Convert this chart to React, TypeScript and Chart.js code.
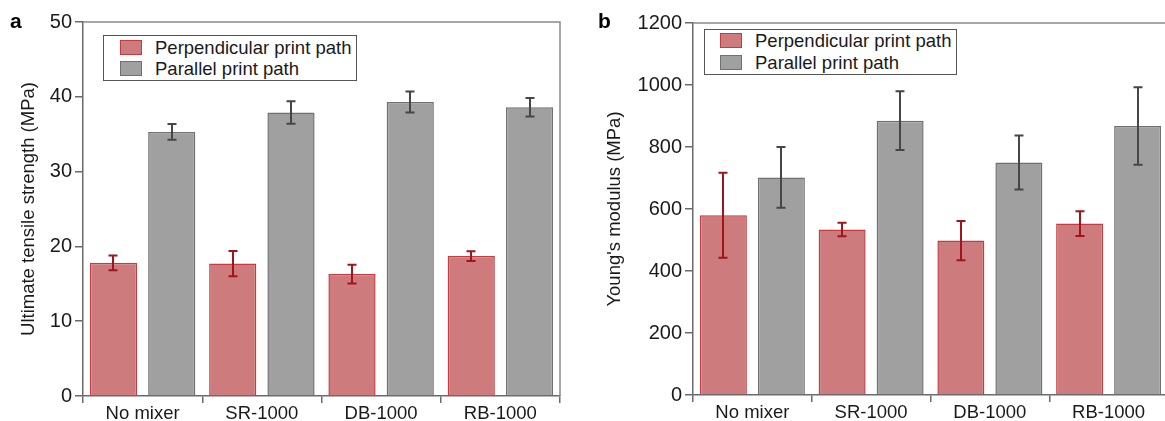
import React, { useEffect, useRef } from 'react';
import { Chart, registerables } from 'chart.js';

Chart.register(...registerables);

// ---------- data ----------
const categories = ['No mixer', 'SR-1000', 'DB-1000', 'RB-1000'];
const seriesLabels = ['Perpendicular print path', 'Parallel print path'];

const utsPerp = [17.8, 17.7, 16.3, 18.7];
const utsPerpErr = [1.0, 1.7, 1.25, 0.65];
const utsPar = [35.3, 37.9, 39.3, 38.6];
const utsParErr = [1.05, 1.5, 1.4, 1.25];

const modPerp = [580, 534, 498, 553];
const modPerpErr = [137, 22, 63, 40];
const modPar = [702, 885, 750, 868];
const modParErr = [98, 95, 87, 125];

const utsTitle = 'Ultimate tensile strength (MPa)';
const modTitle = "Young's modulus (MPa)";

// ---------- styles ----------
const FONT = "'Liberation Sans', Arial, Helvetica, sans-serif";
const TEXT = '#1a1a1a';
const AXIS = '#6a6a6a';
const RED_FILL = 'rgb(205,123,124)';
const RED_BORDER = 'rgb(196,60,66)';
const RED_ERR = 'rgb(160,20,28)';
const GRAY_FILL = 'rgb(160,160,160)';
const GRAY_BORDER = 'rgb(112,112,112)';
const GRAY_ERR = 'rgb(70,70,70)';

const errorBarPlugin = {
  id: 'errorBars',
  afterDatasetsDraw(chart: any) {
    const { ctx } = chart;
    const y = chart.scales.y;
    chart.data.datasets.forEach((ds: any, i: number) => {
      const errs = ds.errors;
      if (!errs) return;
      const meta = chart.getDatasetMeta(i);
      ctx.save();
      ctx.strokeStyle = ds.errorColor;
      ctx.lineWidth = 2;
      meta.data.forEach((bar: any, j: number) => {
        const v = ds.data[j];
        const e = errs[j];
        const x = Math.round(bar.x);
        const yt = y.getPixelForValue(v + e);
        const yb = y.getPixelForValue(v - e);
        ctx.beginPath();
        ctx.moveTo(x, yt);
        ctx.lineTo(x, yb);
        ctx.moveTo(x - 4.5, yt);
        ctx.lineTo(x + 4.5, yt);
        ctx.moveTo(x - 4.5, yb);
        ctx.lineTo(x + 4.5, yb);
        ctx.stroke();
      });
      ctx.restore();
    });
  },
};

const framePlugin = {
  id: 'frame',
  afterDraw(chart: any) {
    const { ctx, chartArea } = chart;
    ctx.save();
    ctx.strokeStyle = '#8a8a8a';
    ctx.lineWidth = 1.5;
    ctx.beginPath();
    ctx.moveTo(chartArea.left, chartArea.top);
    ctx.lineTo(chartArea.right, chartArea.top);
    ctx.lineTo(chartArea.right, chartArea.bottom);
    ctx.stroke();
    ctx.restore();
  },
};

type PanelProps = {
  left: number;
  width: number;
  height: number;
  yWidth: number;
  xHeight: number;
  padTop: number;
  padRight: number;
  titlePad: number;
  min: number;
  max: number;
  step: number;
  title: string;
  perp: number[];
  perpErr: number[];
  par: number[];
  parErr: number[];
};

function BarPanel(p: PanelProps) {
  const ref = useRef<HTMLCanvasElement | null>(null);
  useEffect(() => {
    if (!ref.current) return;
    const chart = new Chart(ref.current, {
      type: 'bar',
      data: {
        labels: categories,
        datasets: [
          {
            label: seriesLabels[0],
            data: p.perp,
            errors: p.perpErr,
            errorColor: RED_ERR,
            backgroundColor: RED_FILL,
            borderColor: RED_BORDER,
            borderWidth: 1.5,
            categoryPercentage: 0.977,
            barPercentage: 0.81,
          } as any,
          {
            label: seriesLabels[1],
            data: p.par,
            errors: p.parErr,
            errorColor: GRAY_ERR,
            backgroundColor: GRAY_FILL,
            borderColor: GRAY_BORDER,
            borderWidth: 1.5,
            categoryPercentage: 0.977,
            barPercentage: 0.81,
          } as any,
        ],
      },
      options: {
        responsive: false,
        animation: false,
        layout: { padding: { top: p.padTop, right: p.padRight, bottom: 0, left: 0 } },
        plugins: { legend: { display: false }, tooltip: { enabled: false } },
        scales: {
          x: {
            grid: {
              display: true,
              drawOnChartArea: false,
              offset: true,
              tickLength: 7,
              color: AXIS,
              lineWidth: 1.5,
            },
            border: { display: true, color: AXIS, width: 1.5 },
            ticks: { font: { family: FONT, size: 18.5 }, color: TEXT, padding: 0, maxRotation: 0 },
            afterFit: (s: any) => {
              s.height = p.xHeight;
            },
          },
          y: {
            min: p.min,
            max: p.max,
            ticks: {
              stepSize: p.step,
              font: { family: FONT, size: 20 },
              color: TEXT,
              padding: 3,
              callback: (v: any) => String(v),
            },
            grid: { drawOnChartArea: false, tickLength: 8, color: AXIS, lineWidth: 1.5 },
            border: { display: true, color: AXIS, width: 1.5 },
            title: {
              display: true,
              text: p.title,
              font: { family: FONT, size: 18.5 },
              color: TEXT,
              padding: { top: p.titlePad, bottom: 0 },
            },
            afterFit: (s: any) => {
              s.width = p.yWidth;
            },
          },
        },
      },
      plugins: [errorBarPlugin, framePlugin],
    });
    return () => chart.destroy();
  }, []);
  return (
    <canvas
      ref={ref}
      width={p.width}
      height={p.height}
      style={{ position: 'absolute', left: p.left, top: 0, width: p.width, height: p.height, display: 'block' }}
    />
  );
}

function Legend({ left, top, width, height, swLeft, rows, textLeft }: any) {
  const swatch = [
    { fill: RED_FILL, border: RED_BORDER },
    { fill: GRAY_FILL, border: GRAY_BORDER },
  ];
  return (
    <div
      style={{
        position: 'absolute',
        left,
        top,
        width,
        height,
        boxSizing: 'border-box',
        border: '1.5px solid #555',
        background: '#fff',
      }}
    >
      {seriesLabels.map((lab, i) => (
        <React.Fragment key={lab}>
          <div
            style={{
              position: 'absolute',
              left: swLeft,
              top: rows[i] - 7.5,
              width: 22,
              height: 15,
              boxSizing: 'border-box',
              background: swatch[i].fill,
              border: `1px solid ${swatch[i].border}`,
            }}
          />
          <div
            style={{
              position: 'absolute',
              left: textLeft,
              top: rows[i] - 11,
              height: 22,
              lineHeight: '22px',
              fontFamily: FONT,
              fontSize: 18.5,
              color: TEXT,
              whiteSpace: 'nowrap',
            }}
          >
            {lab}
          </div>
        </React.Fragment>
      ))}
    </div>
  );
}

function PanelLabel({ left, text }: { left: number; text: string }) {
  return (
    <div
      style={{
        position: 'absolute',
        left,
        top: 9,
        fontFamily: FONT,
        fontWeight: 'bold',
        fontSize: 21,
        lineHeight: '24px',
        color: '#000',
      }}
    >
      {text}
    </div>
  );
}

export default function App() {
  return (
    <div
      style={{
        position: 'fixed',
        left: 0,
        top: 0,
        width: 1165,
        height: 421,
        overflow: 'hidden',
        background: '#fff',
      }}
    >
      <BarPanel
        left={0}
        width={565}
        height={421}
        yWidth={83}
        xHeight={25}
        padTop={22}
        padRight={5}
        titlePad={18}
        min={0}
        max={50}
        step={10}
        title={utsTitle}
        perp={utsPerp}
        perpErr={utsPerpErr}
        par={utsPar}
        parErr={utsParErr}
      />
      <BarPanel
        left={580}
        width={590}
        height={421}
        yWidth={113}
        xHeight={26}
        padTop={23}
        padRight={2}
        titlePad={24}
        min={0}
        max={1200}
        step={200}
        title={modTitle}
        perp={modPerp}
        perpErr={modPerpErr}
        par={modPar}
        parErr={modParErr}
      />
      <Legend left={103} top={35} width={254} height={46} swLeft={16} rows={[11.5, 32.5]} textLeft={51} />
      <Legend left={704} top={29} width={253} height={46} swLeft={15} rows={[10.5, 32.5]} textLeft={50} />
      <PanelLabel left={10} text="a" />
      <PanelLabel left={598} text="b" />
    </div>
  );
}
